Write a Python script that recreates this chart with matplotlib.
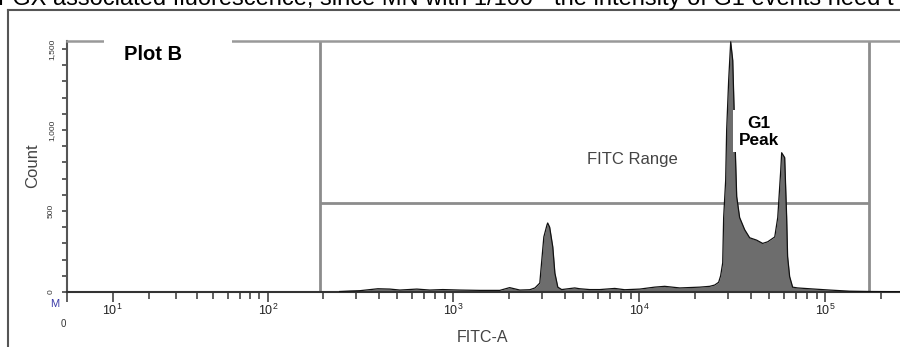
import numpy as np
import matplotlib
matplotlib.use("Agg")
import matplotlib.pyplot as plt
from matplotlib.lines import Line2D
from matplotlib.patches import Rectangle

plt.rcParams['font.family'] = ['Liberation Sans', 'DejaVu Sans']
plt.rcParams['mathtext.fontset'] = 'custom'
plt.rcParams['mathtext.rm'] = 'Liberation Sans'
plt.rcParams['mathtext.it'] = 'Liberation Sans:italic'
plt.rcParams['mathtext.bf'] = 'Liberation Sans:bold'

# histogram (FITC-A value, count)
fitc = [245, 278, 314, 393, 456, 516, 637, 748, 879, 1085, 1390, 1780, 2010, 2280,
        2580, 2750, 2920, 3070, 3190, 3220, 3300, 3430, 3520, 3650, 3830, 4500, 4790,
        5420, 6140, 7390, 8360, 10070, 12110, 13710, 16520, 21150, 23950, 25470,
        26740, 27410, 28120, 28450, 29170, 29530, 30280, 31050, 31840, 32610, 33440,
        34670, 36900, 39260, 42850, 46130, 49090, 53570, 55590, 57680, 58350, 60570,
        62080, 62800, 64410, 66830, 71110, 82470, 105600, 135300, 173300, 251200]
counts = [3, 6, 8, 20, 18, 12, 18, 12, 15, 12, 10, 10, 27, 12,
          14, 25, 55, 340, 413, 426, 400, 278, 117, 30, 15, 25, 20,
          15, 15, 22, 14, 18, 30, 35, 25, 30, 35, 43,
          60, 100, 180, 460, 690, 1000, 1310, 1545, 1430, 1000, 590,
          460, 385, 335, 320, 300, 310, 340, 460, 750, 860, 830,
          460, 220, 95, 30, 25, 20, 12, 5, 3, 2]

gate_low = 192
gate_high = 171400
gate_level = 549

x_major = [0, 10, 100, 1000, 10000, 100000]
x_major_labels = ['', '$10^{1}$', '$10^{2}$', '$10^{3}$', '$10^{4}$', '$10^{5}$']
y_major = [0, 500, 1000, 1500]
y_major_labels = ['0', '500', '1,000', '1,500']

W = 16.75


def fwd(x):
    return np.arcsinh(np.asarray(x, dtype=float) / W)


def inv(y):
    return W * np.sinh(y)


FW, FH = 900, 347


def fx(x):
    return x / FW


def fy(y):
    return 1 - y / FH


fig = plt.figure(figsize=(9, 3.47), dpi=100)
ax = fig.add_axes([fx(67), fy(292), (903 - 67) / FW, (292 - 41) / FH])
ax.set_xscale('function', functions=(fwd, inv))
ax.set_xlim(0, 262144)
ax.set_ylim(0, 1550)

ax.fill_between(fitc, counts, 0, color='#6d6d6d', lw=0, zorder=2)
ax.plot(fitc, counts, color='#111111', lw=0.9, zorder=3)

# FITC range gate
ax.axvline(gate_low, color='#8c8c8c', lw=2, zorder=1)
ax.axvline(gate_high, color='#8c8c8c', lw=2, zorder=1)
ax.hlines(gate_level, gate_low, gate_high, color='#8c8c8c', lw=2, zorder=1)
ax.text(np.sqrt(gate_low * gate_high) * 1.6, 820, 'FITC Range', ha='center', va='center',
        fontsize=12, color='#444444')

minor = []
for e in range(1, 6):
    for k in range(2, 10):
        if k * 10 ** e < 262144:
            minor.append(k * 10 ** e)
ax.set_xticks(x_major)
ax.set_xticklabels(x_major_labels)
ax.set_xticks(minor, minor=True)
ax.set_yticks(y_major)
ax.set_yticklabels(y_major_labels)
ax.set_yticks(np.arange(0, 1550, 100), minor=True)

ax.tick_params(axis='x', which='major', direction='out', length=7.5, width=1.2,
               color='#444444', pad=0, labelsize=9, labelcolor='#222222')
ax.tick_params(axis='x', which='minor', direction='out', length=5, width=1.2,
               color='#444444')
ax.tick_params(axis='y', which='both', direction='out', length=3.6, width=1.2,
               color='#444444', pad=5, labelsize=6, labelrotation=90,
               labelcolor='#333333')
for lab in ax.get_yticklabels():
    lab.set_va('center')

ax.spines['right'].set_visible(False)
ax.spines['top'].set_color('#999999')
ax.spines['top'].set_linewidth(1.8)
ax.spines['left'].set_color('#555555')
ax.spines['left'].set_linewidth(1.5)
ax.spines['bottom'].set_color('#333333')
ax.spines['bottom'].set_linewidth(1.5)

fig.text(fx(33), fy(166), 'Count', rotation=90, ha='center', va='center',
         fontsize=12, color='#444444')
fig.text(fx(483), fy(337), 'FITC-A', ha='center', va='center', fontsize=11.5,
         color='#444444')
fig.text(fx(63), fy(324), '0', ha='center', va='center', fontsize=7, color='#333333')
fig.text(fx(55), fy(304), 'M', ha='center', va='center', fontsize=8, color='#3b3ba8')

# white label boxes
fig.patches.append(Rectangle((fx(104), fy(72)), (232 - 104) / FW, 42 / FH,
                             transform=fig.transFigure, facecolor='white',
                             edgecolor='none', zorder=1))
fig.text(fx(152.5), fy(55), 'Plot B', ha='center', va='center', fontsize=14.5,
         fontweight='bold', color='black')
fig.patches.append(Rectangle((fx(733), fy(152)), (785 - 733) / FW, 42 / FH,
                             transform=fig.transFigure, facecolor='white',
                             edgecolor='none', zorder=1))
fig.text(fx(759), fy(132), 'G1\nPeak', ha='center', va='center', fontsize=12.4,
         fontweight='bold', color='black', linespacing=1.15)

# outer frame and the caption line above it, cut off as in the source
fig.lines.append(Line2D([fx(8), fx(8)], [0, fy(10)], transform=fig.transFigure,
                        color='#555555', lw=1.5))
fig.lines.append(Line2D([fx(8), 1], [fy(10), fy(10)], transform=fig.transFigure,
                        color='#555555', lw=1.5))
fig.text(fx(-2), fy(5), 'FGX associated fluorescence, since MN with 1/100ᵗʰ the intensity of G1 events need t',
         ha='left', va='baseline', fontsize=17, color='black')

fig.savefig('out.png', dpi=100)
